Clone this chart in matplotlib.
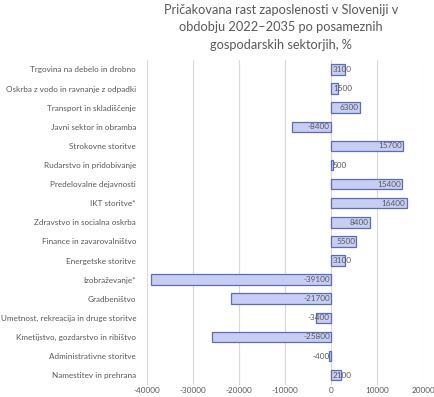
import matplotlib.pyplot as plt
import numpy as np

# sectors, top to bottom as in the chart
sectors = [
    'Trgovina na debelo in drobno',
    'Oskrba z vodo in ravnanje z odpadki',
    'Transport in skladiščenje',
    'Javni sektor in obramba',
    'Strokovne storitve',
    'Rudarstvo in pridobivanje',
    'Predelovalne dejavnosti',
    'IKT storitve*',
    'Zdravstvo in socialna oskrba',
    'Finance in zavarovalništvo',
    'Energetske storitve',
    'Izobraževanje*',
    'Gradbeništvo',
    'Umetnost, rekreacija in druge storitve',
    'Kmetijstvo, gozdarstvo in ribištvo',
    'Administrativne storitve',
    'Namestitev in prehrana',
]
growth = [3100, 1500, 6300, -8400, 15700, 500, 15400, 16400, 8400,
          5500, 3100, -39100, -21700, -3400, -25800, -400, 2100]
xticks = [-40000, -30000, -20000, -10000, 0, 10000, 20000]

grey = '#595959'
plt.rcParams['font.family'] = ['Lato', 'DejaVu Sans']

fig = plt.figure(figsize=(4.34, 3.97), dpi=100)
ax = fig.add_axes([0.339, 0.031, 0.636, 0.818])

y = np.arange(len(sectors))
ax.barh(y, growth, height=0.55, color='#c8cdf4', edgecolor='#5d6db5',
        linewidth=0.9, zorder=3)

# data labels at the inside end of the bars
fs = 5.9
for yi, v in zip(y, growth):
    txt = str(v)
    if v > 4000:
        ax.text(v - 300, yi, txt, ha='right', va='center', fontsize=fs,
                color=grey, zorder=4)
    elif v >= 0:
        ax.text(400, yi, txt, ha='left', va='center', fontsize=fs,
                color=grey, zorder=4)
    else:
        ax.text(-300, yi, txt, ha='right', va='center', fontsize=fs,
                color=grey, zorder=4)

ax.set_yticks(y)
ax.set_yticklabels(sectors, fontsize=fs, color=grey)
ax.set_ylim(len(sectors) - 0.5, -0.5)
ax.set_xlim(-40000, 20000)
ax.set_xticks(xticks)
ax.set_xticklabels([str(t) for t in xticks], fontsize=fs, color=grey)
ax.tick_params(length=0, pad=2)
ax.tick_params(axis='y', pad=8)

ax.grid(axis='x', color='#d9d9d9', linewidth=0.8, zorder=0)
ax.axvline(0, color='#d9d9d9', linewidth=0.8, zorder=1)
for s in ax.spines.values():
    s.set_visible(False)

fig.text(0.648, 0.99, 'Pričakovana rast zaposlenosti v Sloveniji v\n'
         'obdobju 2022–2035 po posameznih\ngospodarskih sektorjih, %',
         ha='center', va='top', fontsize=9.2, color=grey, linespacing=1.55)

fig.savefig('out.png', dpi=100)
